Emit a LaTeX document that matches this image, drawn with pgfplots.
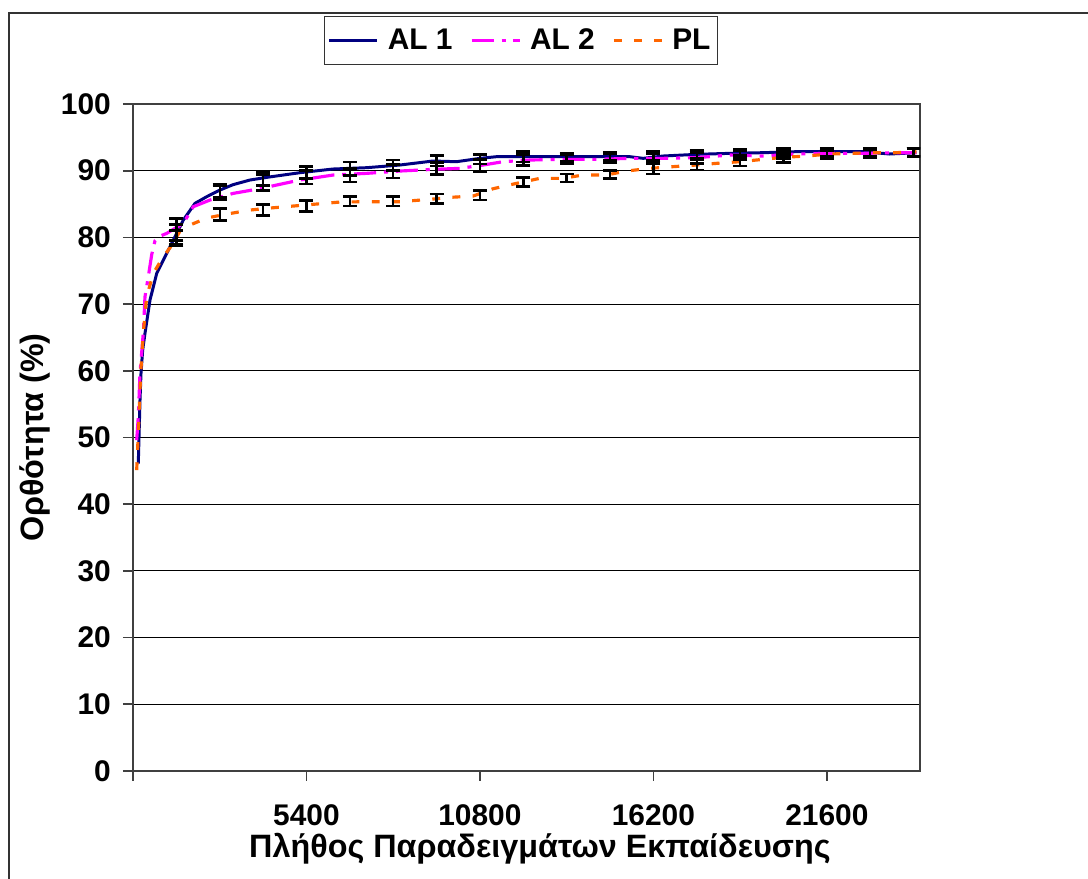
\documentclass[border=0pt]{standalone}
\usepackage{fontspec}
\setmainfont{Liberation Sans}
\usepackage{pgfplots}
\pgfplotsset{compat=1.18}
\definecolor{ALone}{HTML}{000080}
\definecolor{ALtwo}{HTML}{FF00FF}
\definecolor{PLc}{HTML}{FF6600}
\newcommand{\bigf}{\bfseries\fontsize{17}{20}\selectfont}
\newcommand{\labf}{\bfseries\fontsize{18.4}{22}\selectfont}

\begin{document}
\begin{tikzpicture}
\useasboundingbox (-2.66,-2.16) rectangle (19.10,15.42);
\draw[line width=1.2pt, black!80] (19.4,15.16) -- (-2.48,15.16) -- (-2.48,-2.4);
\begin{axis}[
  scale only axis, width=15.74cm, height=13.34cm,
  xmin=0, xmax=24500, ymin=0, ymax=100,
  scaled x ticks=false,
  xtick={0,5400,10800,16200,21600},
  xticklabels={,5400,10800,16200,21600},
  ytick={0,10,...,100},
  tick align=outside, major tick length=0.2cm,
  xtick pos=bottom, ytick pos=left,
  /pgf/number format/assume math mode=true,
  tick label style={font=\bigf},
  xticklabel style={anchor=north, yshift=-0.34cm},
  yticklabel style={anchor=east, xshift=-0.12cm},
  ymajorgrids, grid style={black, line width=0.6pt},
  axis line style={black!75, line width=1.1pt},
  tick style={black!75, line width=1pt},
  xlabel={Πλήθος Παραδειγμάτων Εκπαίδευσης},
  ylabel={Ορθότητα (\%)},
  label style={font=\labf},
  xlabel style={at={(axis description cs:0.517,-0.117)}, anchor=center},
  ylabel style={at={(axis description cs:-0.1245,0.5)}, anchor=center},
  legend columns=3,
  legend style={at={(0.493,1.095)}, anchor=center, draw=black!80,
    line width=0.9pt, font=\bigf, inner xsep=2pt, inner ysep=5pt,
    /tikz/every odd column/.append style={column sep=3pt},
    /tikz/every even column/.append style={column sep=8pt}},
  legend image code/.code={\draw[#1] (0cm,0cm) -- (0.96cm,0cm);},
  error bars/y dir=both, error bars/y explicit,
  error bars/error mark options={rotate=90, black, line width=1.4pt, mark size=4pt},
  error bars/error bar style={black, line width=1.4pt, solid},
]
\addplot[ALone, line width=1.7pt, no markers, error bars/y dir=none] coordinates {
(165,46.1) (218,55.6) (249,59.6) (301,63.1) (373,65.6) (529,70.6) (738,74.6)
(893,76.1) (1100,78.1) (1307,80.1) (1566,82.6) (1929,85.1) (2294,86.1)
(2707,87.1) (3112,87.9) (3641,88.6) (4161,89.0) (5197,89.7) (6224,90.25)
(7273,90.45) (8310,90.85) (9336,91.45) (10074,91.35) (10799,91.85)
(11318,92.1) (12355,92.1) (13382,92.1) (14430,92.1) (15467,92.1)
(15880,91.85) (16503,92.2) (17542,92.45) (18579,92.6) (19615,92.7)
(20655,92.85) (21691,92.85) (22727,92.85) (23558,92.5) (24389,92.7)
};
\addlegendentry{AL 1}
\addplot[ALtwo, line width=1.8pt, no markers, error bars/y dir=none,
  dash pattern=on 12.5pt off 4.5pt on 2.3pt off 4.5pt] coordinates {
(115,49.6) (165,53.1) (218,59.7) (321,65.7) (373,71.1) (476,74.1) (582,77.4)
(685,79.5) (850,80.2) (1049,80.6) (1565,82.1) (1877,84.6) (2396,85.6)
(3121,86.6) (3952,87.3) (4472,87.85) (5197,88.6) (6233,89.35) (7273,89.6)
(8310,89.95) (9345,90.2) (10176,90.35) (10901,90.85) (11524,91.35)
(12355,91.6) (13391,91.7) (14430,91.7) (15467,91.85) (16503,91.85)
(17542,91.95) (18579,92.35) (19615,92.2) (20655,92.5) (21691,92.6)
(22727,92.6) (23765,92.7) (24389,92.7)
};
\addlegendentry{AL 2}
\addplot[PLc, line width=1.8pt, no markers, error bars/y dir=none,
  dash pattern=on 4.5pt off 7pt] coordinates {
(115,45.1) (165,50.6) (240,59.7) (321,65.7) (426,71.1) (632,74.6) (943,77.1)
(1254,79.1) (1500,81.3) (2294,82.9) (2810,83.4) (3641,84.1) (4263,84.4)
(4988,84.7) (5717,85.0) (6442,85.3) (7273,85.35) (8310,85.35) (9345,85.75)
(9865,86.0) (10590,86.2) (11212,87.3) (11940,88.1) (12665,88.85)
(13382,88.85) (14004,89.35) (14741,89.35) (15364,89.95) (16089,90.35)
(16805,90.6) (17542,90.85) (18164,91.1) (18889,91.35) (19615,91.7)
(20237,92.0) (20965,92.2) (21691,92.5) (22406,92.6) (23037,92.7)
(23765,92.7) (24389,92.85)
};
\addlegendentry{PL}
% error bars at every 1350 examples
\addplot[draw=none, no markers, forget plot] coordinates {
(1350,80.8) +- (0,2.0) (2700,87.0) +- (0,1.0) (4050,88.8) +- (0,1.0)
(5400,89.7) +- (0,0.9) (6750,90.3) +- (0,1.0) (8100,90.8) +- (0,0.8)
(9450,91.5) +- (0,0.8) (10800,91.7) +- (0,0.7) (12150,92.1) +- (0,0.8)
(13500,92.0) +- (0,0.6) (14850,92.1) +- (0,0.6) (16200,92.2) +- (0,0.7)
(17550,92.4) +- (0,0.6) (18900,92.6) +- (0,0.6) (20250,92.7) +- (0,0.6)
(21600,92.8) +- (0,0.6) (22950,92.8) +- (0,0.6) (24300,92.7) +- (0,0.6)
};
\addplot[draw=none, no markers, forget plot] coordinates {
(1350,80.7) +- (0,1.2) (2700,86.7) +- (0,1.0) (4050,88.2) +- (0,1.2)
(5400,89.0) +- (0,1.0) (6750,89.3) +- (0,1.0) (8100,89.9) +- (0,1.0)
(9450,90.3) +- (0,0.9) (10800,90.8) +- (0,0.9) (12150,91.6) +- (0,0.8)
(13500,91.7) +- (0,0.7) (14850,91.85) +- (0,0.7) (16200,91.8) +- (0,0.8)
(17550,91.9) +- (0,0.8) (18900,92.35) +- (0,0.7) (20250,92.35) +- (0,0.6)
(21600,92.5) +- (0,0.6) (22950,92.6) +- (0,0.6) (24300,92.7) +- (0,0.6)
};
\addplot[draw=none, no markers, forget plot] coordinates {
(1350,80.0) +- (0,1.0) (2700,83.4) +- (0,0.9) (4050,84.1) +- (0,0.8)
(5400,84.7) +- (0,0.8) (6750,85.4) +- (0,0.7) (8100,85.4) +- (0,0.7)
(9450,85.8) +- (0,0.7) (10800,86.3) +- (0,0.7) (12150,88.3) +- (0,0.7)
(13500,88.9) +- (0,0.6) (14850,89.4) +- (0,0.6) (16200,90.3) +- (0,0.8)
(17550,90.9) +- (0,0.8) (18900,91.5) +- (0,0.8) (20250,91.9) +- (0,0.7)
(21600,92.4) +- (0,0.6) (22950,92.7) +- (0,0.6) (24300,92.8) +- (0,0.6)
};
\end{axis}
\end{tikzpicture}
\end{document}
